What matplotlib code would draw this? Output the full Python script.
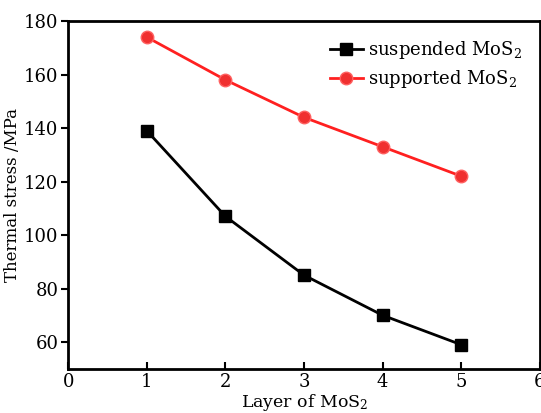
import matplotlib.pyplot as plt

plt.rcParams['font.family'] = ['DejaVu Serif']
plt.rcParams['mathtext.fontset'] = 'dejavuserif'

layers = [1, 2, 3, 4, 5]
suspended = [139, 107, 85, 70, 59]
supported = [174, 158, 144, 133, 122]

fig = plt.figure(figsize=(5.41, 4.13), dpi=100)
ax = fig.add_axes([0.126, 0.107, 0.872, 0.842])

ax.plot(layers, suspended, color='black', lw=2, marker='s', ms=9,
        label=r'suspended MoS$_2$')
ax.plot(layers, supported, color='#ff2020', lw=2, marker='o', ms=9,
        markerfacecolor='#f03030', markeredgecolor='#ff6060',
        label=r'supported MoS$_2$')

ax.set_xlim(0, 6)
ax.set_ylim(50, 180)
ax.set_xticks(range(0, 7))
ax.set_yticks(range(60, 181, 20))
ax.tick_params(axis='x', direction='in', length=5, width=1.5, labelsize=13, pad=3)
ax.tick_params(axis='y', direction='out', length=5, width=1.5, labelsize=13, pad=2)
for s in ax.spines.values():
    s.set_linewidth(2)

ax.set_xlabel(r'Layer of MoS$_2$', fontsize=12.5, labelpad=1)
ax.set_ylabel('Thermal stress /MPa', fontsize=12, labelpad=2)
ax.legend(loc='upper right', frameon=False, fontsize=13, handlelength=1.8,
          handletextpad=0.3, borderaxespad=0.6, labelspacing=0.4)

fig.savefig('out.png', dpi=100)
